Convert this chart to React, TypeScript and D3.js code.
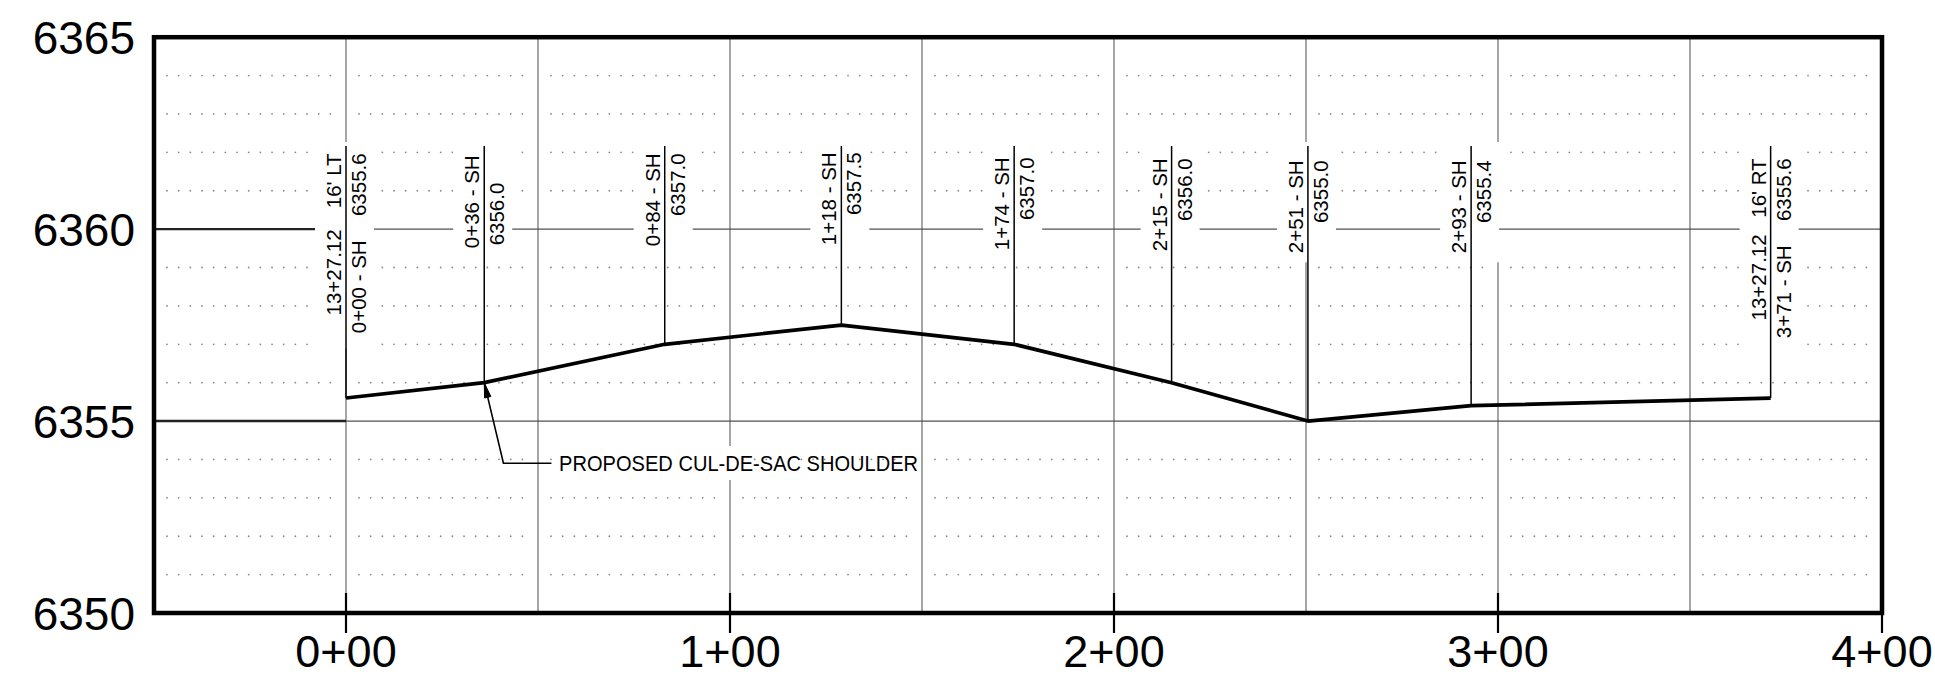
import React from "react";
import * as d3 from "d3";

if (typeof document !== "undefined") document.body.style.margin = "0";

const W = 1935;
const H = 684;

// ---- data ----
const stations = [0, 36, 83, 129, 174, 215, 250.5, 293, 371];
const elevations = [6355.6, 6356.0, 6357.0, 6357.5, 6357.0, 6356.0, 6355.0, 6355.4, 6355.6];
const stationLabels = ["0+00 - SH", "0+36 - SH", "0+84 - SH", "1+18 - SH", "1+74 - SH", "2+15 - SH", "2+51 - SH", "2+93 - SH", "3+71 - SH"];
const elevationLabels = ["6355.6", "6356.0", "6357.0", "6357.5", "6357.0", "6356.0", "6355.0", "6355.4", "6355.6"];
const offsetLabels = ["16' LT", "", "", "", "", "", "", "", "16' RT"];
const alignmentLabels = ["13+27.12", "", "", "", "", "", "", "", "13+27.12"];
const xTicks = [0, 100, 200, 300, 400];
const xTickLabels = ["0+00", "1+00", "2+00", "3+00", "4+00"];
const yTicks = [6350, 6355, 6360, 6365];
const yTickLabels = ["6350", "6355", "6360", "6365"];
const calloutText = "PROPOSED CUL-DE-SAC SHOULDER";

// ---- layout (label placement tweaks, px) ----
const labelDrop = [1, 3, 1, 0, 5, 6, 8, 8, 6];
const FONT = "'Liberation Sans', Arial, sans-serif";

export default function App() {
  const x = d3.scaleLinear().domain([-50, 400]).range([154, 1882]);
  const y = d3.scaleLinear().domain([6350, 6365]).range([613, 37.2]);

  const x0 = x(-50), x1 = x(400), yTop = y(6365), yBot = y(6350);
  const gridX = d3.range(0, 400, 50);
  const cells = d3.range(-50, 400, 50);
  const dotRows = d3.range(6351, 6365).filter((v) => v % 5 !== 0);

  const profile = d3
    .line<number>()
    .x((_, i) => x(stations[i]))
    .y((d) => y(d))(elevations) as string;

  const lineTop = 146;
  const baseTop = y(6362);
  const fs = 20.5;

  // masks behind labels
  const masks = stations.map((s, i) => {
    const cx = x(s);
    const top = baseTop + labelDrop[i];
    const isEnd = offsetLabels[i] !== "";
    const bottom = isEnd ? top + 87 + 90 + 18 : top + 92 + 10;
    return { x: cx - 31, y: 142, w: 59, h: bottom - 142 };
  });

  // callout leader
  const tip = [x(36), y(6356)];
  const knee = [x(41), y(6353.9)];
  const lEnd = [x(53.5), y(6353.9)];
  const dx = knee[0] - tip[0], dy = knee[1] - tip[1];
  const len = Math.hypot(dx, dy);
  const ux = dx / len, uy = dy / len, px = -uy, py = ux;
  const hl = 15, hw = 3.2;
  const arrow = `M${tip[0]},${tip[1]} L${tip[0] + hl * ux + hw * px},${tip[1] + hl * uy + hw * py} L${tip[0] + hl * ux - hw * px},${tip[1] + hl * uy - hw * py} Z`;

  return (
    <svg width={W} height={H} style={{ display: "block", background: "#fff" }} fontFamily={FONT}>
      <rect x={0} y={0} width={W} height={H} fill="#fff" />

      {/* dotted rows */}
      {dotRows.map((r) =>
        cells.map((c) => (
          <line
            key={`d${r}-${c}`}
            x1={x(c) + 13}
            x2={x(c + 50) - 11}
            y1={y(r)}
            y2={y(r)}
            stroke="#8a8a8a"
            strokeWidth={1.8}
            strokeLinecap="round"
            strokeDasharray="0 11.67"
          />
        ))
      )}

      {/* vertical grid */}
      {gridX.map((g) => (
        <line key={`v${g}`} x1={x(g)} x2={x(g)} y1={yTop} y2={yBot} stroke="#6a6a6a" strokeWidth={1.2} />
      ))}

      {/* solid horizontal lines */}
      {[6355, 6360].map((r) => (
        <g key={`h${r}`}>
          <line x1={x0} x2={x1} y1={y(r)} y2={y(r)} stroke="#505050" strokeWidth={1.3} />
          <line x1={x0} x2={x(0)} y1={y(r)} y2={y(r)} stroke="#222" strokeWidth={2.4} />
        </g>
      ))}

      {/* label masks */}
      {masks.map((m, i) => (
        <rect key={`m${i}`} x={m.x} y={m.y} width={m.w} height={m.h} fill="#fff" />
      ))}
      <rect x={x(55)} y={446} width={x(101) - x(55)} height={34} fill="#fff" />

      {/* station marker lines */}
      {stations.map((s, i) => (
        <line key={`s${i}`} x1={x(s)} x2={x(s)} y1={lineTop} y2={y(elevations[i])} stroke="#000" strokeWidth={1.5} />
      ))}

      {/* profile */}
      <path d={profile} fill="none" stroke="#000" strokeWidth={3.7} strokeLinejoin="round" />

      {/* station labels */}
      {stations.map((s, i) => {
        const cx = x(s);
        const top = baseTop + labelDrop[i];
        const isEnd = offsetLabels[i] !== "";
        const lb = cx - 5; // left column baseline
        const rb = cx + 20; // right column baseline
        const rot = (bx: number, ty: number) => `translate(${bx},${ty}) rotate(-90)`;
        if (isEnd) {
          return (
            <g key={`l${i}`} fontSize={fs} fill="#000">
              <text transform={rot(lb, top)} textAnchor="end">{offsetLabels[i]}</text>
              <text transform={rot(lb, top + 76)} textAnchor="end">{alignmentLabels[i]}</text>
              <text transform={rot(rb, top)} textAnchor="end">{elevationLabels[i]}</text>
              <text transform={rot(rb, top + 87)} textAnchor="end">{stationLabels[i]}</text>
            </g>
          );
        }
        const bottomAligned = i === 1;
        return (
          <g key={`l${i}`} fontSize={fs} fill="#000">
            <text transform={rot(lb, top)} textAnchor="end">{stationLabels[i]}</text>
            {bottomAligned ? (
              <text transform={rot(rb, top + 90)} textAnchor="start">{elevationLabels[i]}</text>
            ) : (
              <text transform={rot(rb, top)} textAnchor="end">{elevationLabels[i]}</text>
            )}
          </g>
        );
      })}

      {/* callout */}
      <path d={arrow} fill="#000" stroke="#000" strokeWidth={1} />
      <polyline
        points={`${tip[0]},${tip[1]} ${knee[0]},${knee[1]} ${lEnd[0]},${lEnd[1]}`}
        fill="none"
        stroke="#000"
        strokeWidth={1.6}
      />
      <text x={x(55.5)} y={knee[1] + 8} fontSize={22.5} textLength={359} lengthAdjust="spacingAndGlyphs" fill="#000">
        {calloutText}
      </text>

      {/* frame */}
      <rect x={x0} y={yTop} width={x1 - x0} height={yBot - yTop} fill="none" stroke="#000" strokeWidth={4.5} />

      {/* x ticks */}
      {xTicks.map((t, i) => (
        <g key={`xt${t}`}>
          <line x1={x(t)} x2={x(t)} y1={yBot - 20} y2={yBot + 20} stroke="#000" strokeWidth={2.2} />
          <text x={x(t)} y={667} fontSize={45} textAnchor="middle" fill="#000">{xTickLabels[i]}</text>
        </g>
      ))}

      {/* y tick labels */}
      {yTicks.map((t, i) => (
        <text key={`yt${t}`} x={135} y={y(t) + 16.5} fontSize={46} textAnchor="end" fill="#000">
          {yTickLabels[i]}
        </text>
      ))}
    </svg>
  );
}
